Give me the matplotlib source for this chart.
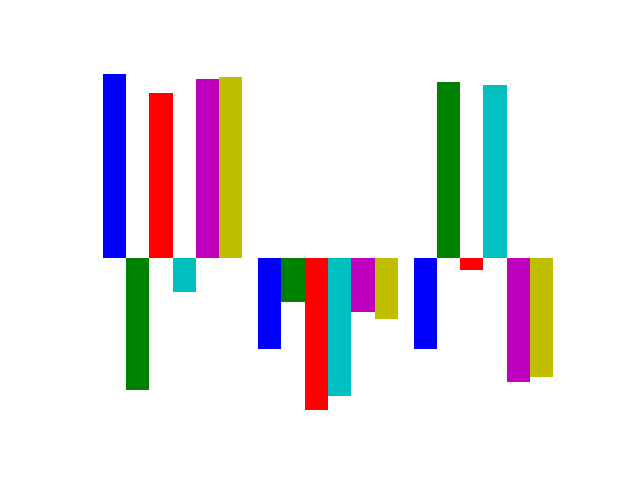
import numpy as np
import matplotlib
matplotlib.use("Agg")
import matplotlib.pyplot as plt

# values per series, one value per group
groups = [0, 1, 2]
colors = ["b", "g", "r", "c", "m", "y"]
blue = [1.84, -0.91, -0.91]
green = [-1.32, -0.44, 1.76]
red = [1.65, -1.52, -0.12]
cyan = [-0.34, -1.38, 1.73]
magenta = [1.79, -0.54, -1.24]
yellow = [1.81, -0.61, -1.19]

series = [blue, green, red, cyan, magenta, yellow]
width = 0.15
x = np.arange(len(groups))

fig, ax = plt.subplots(figsize=(6.4, 4.8), dpi=100)
for j, vals in enumerate(series):
    ax.bar(x + j * width, vals, width, color=colors[j])

ax.axis("off")
plt.savefig("out.png")
